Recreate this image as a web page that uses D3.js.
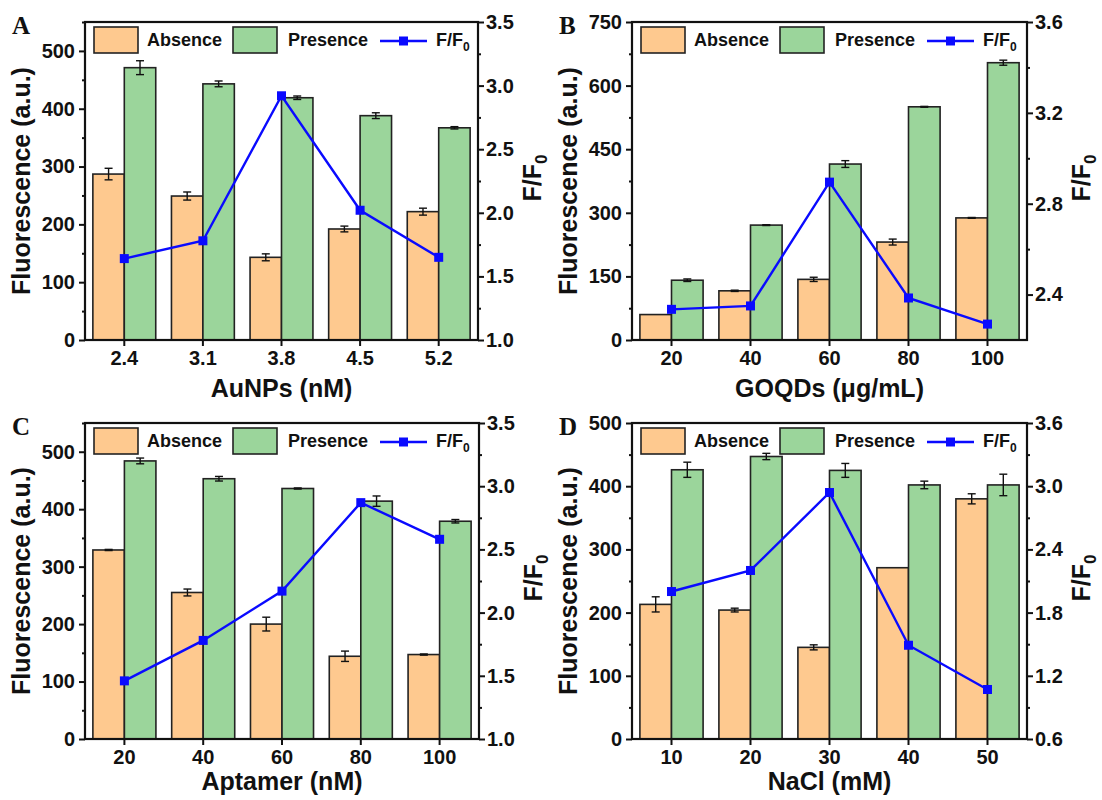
<!DOCTYPE html>
<head>
  <meta charset="utf-8">
  <script src="https://unpkg.com/d3@7/dist/d3.min.js"></script>
  <style>
    body { margin:0; background:#fff; }
    text { font-family: "Liberation Sans", Arial, sans-serif; font-weight: bold; fill:#111; }
  </style>
</head>
<body>
  <svg width="1102" height="800"></svg>
  <script>
    // Panel A: AuNPs
    var aCats = ["2.4", "3.1", "3.8", "4.5", "5.2"];
    var aAbsence = [287, 249, 143, 192, 222];
    var aAbsenceErr = [10, 7, 6, 5, 6];
    var aPresence = [471, 443, 419, 388, 367];
    var aPresenceErr = [12, 5, 3, 5, 2];
    var aRatio = [1.64, 1.78, 2.92, 2.02, 1.65];

    // Panel B: GOQDs
    var bCats = ["20", "40", "60", "80", "100"];
    var bAbsence = [60, 116, 143, 231, 288];
    var bAbsenceErr = [0, 1.5, 5, 7, 1];
    var bPresence = [141, 271, 415, 550, 654];
    var bPresenceErr = [3, 1, 8, 1, 6];
    var bRatio = [2.335, 2.35, 2.895, 2.385, 2.27];

    // Panel C: Aptamer
    var cCats = ["20", "40", "60", "80", "100"];
    var cAbsence = [329, 255, 200, 144, 147];
    var cAbsenceErr = [1, 6, 12, 9, 1];
    var cPresence = [484, 453, 436, 414, 379];
    var cPresenceErr = [5, 4, 1, 9, 3];
    var cRatio = [1.46, 1.78, 2.17, 2.87, 2.58];

    // Panel D: NaCl
    var dCats = ["10", "20", "30", "40", "50"];
    var dAbsence = [213, 204, 145, 271, 380];
    var dAbsenceErr = [12, 3, 4, 0, 8];
    var dPresence = [426, 447, 425, 402, 402];
    var dPresenceErr = [12, 5, 11, 6, 17];
    var dRatio = [2.0, 2.2, 2.94, 1.49, 1.07];

    var absColor = "#fec98f", preColor = "#9bd59b", lineColor = "#0a0aff";

    var svg = d3.select("svg");

    function panel(p) {
      var g = svg.append("g");
      var x = d3.scaleBand().domain(p.cats).range([p.x0, p.x1]).paddingInner(0.2).paddingOuter(0.1);
      var sub = d3.scaleBand().domain(["abs", "pre"]).range([0, x.bandwidth()]);
      var y = d3.scaleLinear().domain(p.yDom).range([p.y1, p.y0]);
      var y2 = d3.scaleLinear().domain(p.y2Dom).range([p.y1, p.y0]);

      var rows = p.cats.map(function (c, i) {
        return [
          { c: c, k: "abs", v: p.abs[i], e: p.absErr[i], fill: absColor },
          { c: c, k: "pre", v: p.pre[i], e: p.preErr[i], fill: preColor }
        ];
      });
      var bars = [].concat.apply([], rows);

      g.selectAll(".bar").data(bars).enter().append("rect")
        .attr("x", function (d) { return x(d.c) + sub(d.k); })
        .attr("y", function (d) { return y(d.v); })
        .attr("width", sub.bandwidth())
        .attr("height", function (d) { return y(p.yDom[0]) - y(d.v); })
        .attr("fill", function (d) { return d.fill; })
        .attr("stroke", "#222").attr("stroke-width", 1.6);

      // error bars
      var eb = g.selectAll(".eb").data(bars.filter(function (d) { return d.e > 0; })).enter().append("g")
        .attr("stroke", "#111").attr("stroke-width", 1.4);
      eb.append("line")
        .attr("x1", function (d) { return x(d.c) + sub(d.k) + sub.bandwidth() / 2; })
        .attr("x2", function (d) { return x(d.c) + sub(d.k) + sub.bandwidth() / 2; })
        .attr("y1", function (d) { return y(d.v - d.e); })
        .attr("y2", function (d) { return y(d.v + d.e); });
      [-1, 1].forEach(function (s) {
        eb.append("line")
          .attr("x1", function (d) { return x(d.c) + sub(d.k) + sub.bandwidth() / 2 - 4; })
          .attr("x2", function (d) { return x(d.c) + sub(d.k) + sub.bandwidth() / 2 + 4; })
          .attr("y1", function (d) { return y(d.v + s * d.e); })
          .attr("y2", function (d) { return y(d.v + s * d.e); });
      });

      // ratio line
      var cx = function (c) { return x(c) + x.bandwidth() / 2; };
      var line = d3.line().x(function (d, i) { return cx(p.cats[i]); }).y(function (d) { return y2(d); });
      g.append("path").datum(p.ratio).attr("d", line)
        .attr("fill", "none").attr("stroke", lineColor).attr("stroke-width", 2.4);
      g.selectAll(".pt").data(p.ratio).enter().append("rect")
        .attr("x", function (d, i) { return cx(p.cats[i]) - 4.5; })
        .attr("y", function (d) { return y2(d) - 4.5; })
        .attr("width", 9).attr("height", 9).attr("fill", lineColor);

      // axes
      var left = d3.axisLeft(y).tickValues(p.yTicks).tickSize(6).tickPadding(4);
      var leftMinor = d3.axisLeft(y).tickValues(p.yMinor).tickSize(3).tickFormat("");
      var right = d3.axisRight(y2).tickValues(p.y2Ticks).tickSize(6).tickPadding(2).tickFormat(d3.format(".1f"));
      var rightMinor = d3.axisRight(y2).tickValues(p.y2Minor).tickSize(3).tickFormat("");
      var bottom = d3.axisBottom(x).tickSize(6).tickPadding(5);

      function style(sel) {
        sel.selectAll(".domain").remove();
        sel.selectAll(".tick line").attr("stroke", "#111").attr("stroke-width", 2);
        sel.selectAll(".tick text").style("font-size", "20px").attr("fill", "#111");
      }
      g.append("g").attr("transform", "translate(" + p.x0 + ",0)").call(left).call(style);
      g.append("g").attr("transform", "translate(" + p.x0 + ",0)").call(leftMinor).call(style);
      g.append("g").attr("transform", "translate(" + p.x1 + ",0)").call(right).call(style);
      g.append("g").attr("transform", "translate(" + p.x1 + ",0)").call(rightMinor).call(style);
      g.append("g").attr("transform", "translate(0," + p.y1 + ")").call(bottom).call(style);

      g.append("rect").attr("x", p.x0).attr("y", p.y0)
        .attr("width", p.x1 - p.x0).attr("height", p.y1 - p.y0)
        .attr("fill", "none").attr("stroke", "#111").attr("stroke-width", 2.2);

      // legend
      var ly = p.y0 + 5;
      g.append("rect").attr("x", p.x0 + 9).attr("y", ly).attr("width", 44).attr("height", 26)
        .attr("fill", absColor).attr("stroke", "#222").attr("stroke-width", 1.6);
      g.append("text").attr("x", p.x0 + 62).attr("y", ly + 19).style("font-size", "18px").text("Absence");
      g.append("rect").attr("x", p.x0 + 148).attr("y", ly).attr("width", 44).attr("height", 26)
        .attr("fill", preColor).attr("stroke", "#222").attr("stroke-width", 1.6);
      g.append("text").attr("x", p.x0 + 203).attr("y", ly + 19).style("font-size", "18px").text("Presence");
      g.append("line").attr("x1", p.x0 + 295).attr("x2", p.x0 + 342).attr("y1", ly + 14).attr("y2", ly + 14)
        .attr("stroke", lineColor).attr("stroke-width", 2.4);
      g.append("rect").attr("x", p.x0 + 314).attr("y", ly + 9.5).attr("width", 9).attr("height", 9).attr("fill", lineColor);
      var lt = g.append("text").attr("x", p.x0 + 351).attr("y", ly + 19).style("font-size", "18px").text("F/F");
      lt.append("tspan").attr("dy", 5).style("font-size", "12px").text("0");

      // titles
      var my = (p.y0 + p.y1) / 2;
      g.append("text").attr("transform", "translate(" + (p.x0 - 55) + "," + my + ") rotate(-90)")
        .attr("text-anchor", "middle").style("font-size", "25px").text("Fluorescence (a.u.)");
      var rt = g.append("text").attr("transform", "translate(" + (p.x1 + 63) + "," + (my - 3) + ") rotate(-90)")
        .attr("text-anchor", "middle").style("font-size", "25px").text("F/F");
      rt.append("tspan").attr("dy", 6).style("font-size", "17px").text("0");
      g.append("text").attr("x", (p.x0 + p.x1) / 2).attr("y", p.y1 + p.xTitleGap)
        .attr("text-anchor", "middle").style("font-size", "25px").text(p.xTitle);
      g.append("text").attr("x", p.x0 - 73).attr("y", p.y0 + 12)
        .style("font-family", "'Liberation Serif', 'Times New Roman', serif").style("font-size", "25px")
        .text(p.label);
    }

    panel({ label: "A", cats: aCats, abs: aAbsence, absErr: aAbsenceErr, pre: aPresence, preErr: aPresenceErr, ratio: aRatio,
      x0: 85, x1: 478, y0: 22, y1: 340, xTitleGap: 57,
      yDom: [0, 550], yTicks: d3.range(0, 501, 100), yMinor: d3.range(50, 551, 100),
      y2Dom: [1.0, 3.5], y2Ticks: [1.0, 1.5, 2.0, 2.5, 3.0, 3.5], y2Minor: [1.25, 1.75, 2.25, 2.75, 3.25],
      xTitle: "AuNPs (nM)" });

    panel({ label: "B", cats: bCats, abs: bAbsence, absErr: bAbsenceErr, pre: bPresence, preErr: bPresenceErr, ratio: bRatio,
      x0: 632, x1: 1027, y0: 22, y1: 340, xTitleGap: 57,
      yDom: [0, 750], yTicks: d3.range(0, 751, 150), yMinor: d3.range(75, 751, 150),
      y2Dom: [2.2, 3.6], y2Ticks: [2.4, 2.8, 3.2, 3.6], y2Minor: [2.6, 3.0, 3.4],
      xTitle: "GOQDs (\u03bcg/mL)" });

    panel({ label: "C", cats: cCats, abs: cAbsence, absErr: cAbsenceErr, pre: cPresence, preErr: cPresenceErr, ratio: cRatio,
      x0: 85, x1: 479, y0: 423, y1: 739, xTitleGap: 51,
      yDom: [0, 550], yTicks: d3.range(0, 501, 100), yMinor: d3.range(50, 551, 100),
      y2Dom: [1.0, 3.5], y2Ticks: [1.0, 1.5, 2.0, 2.5, 3.0, 3.5], y2Minor: [1.25, 1.75, 2.25, 2.75, 3.25],
      xTitle: "Aptamer (nM)" });

    panel({ label: "D", cats: dCats, abs: dAbsence, absErr: dAbsenceErr, pre: dPresence, preErr: dPresenceErr, ratio: dRatio,
      x0: 632, x1: 1027, y0: 423, y1: 739, xTitleGap: 51,
      yDom: [0, 500], yTicks: d3.range(0, 501, 100), yMinor: d3.range(50, 500, 100),
      y2Dom: [0.6, 3.6], y2Ticks: [0.6, 1.2, 1.8, 2.4, 3.0, 3.6], y2Minor: [0.9, 1.5, 2.1, 2.7, 3.3],
      xTitle: "NaCl (mM)" });
  </script>
</body>
